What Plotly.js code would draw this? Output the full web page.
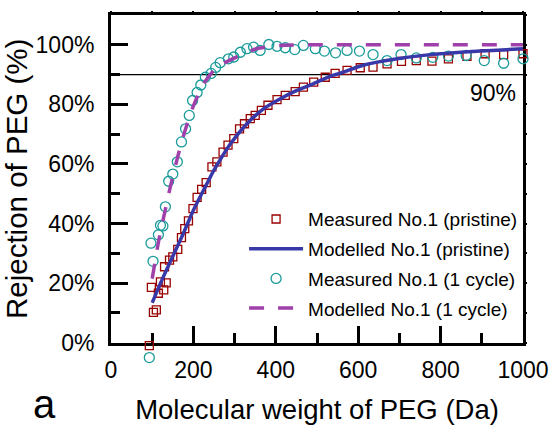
<!DOCTYPE html>
<html>
<head>
<meta charset="utf-8">
<script src="https://cdn.plot.ly/plotly-3.0.1.min.js"></script>
<style>html,body{margin:0;padding:0;background:#fff;}#chart{width:550px;height:425px;}</style>
</head>
<body>
<div id="chart"></div>
<script>
// Measured No.1 (pristine) - squares
const mwPristine = [93, 98, 103, 110, 115, 120, 128, 130, 134, 142, 150, 162, 171, 179, 188, 199, 209, 220, 231, 245, 257, 272, 284, 298, 312, 324, 338, 350, 365, 381, 403, 423, 447, 467, 492, 520, 544, 573, 605, 636, 670, 705, 741, 779, 819, 864, 908, 953, 1000];
const rejPristine = [-1.0, 18.6, 10.2, 11.0, 16.6, 20.4, 17.7, 25.5, 20.1, 27.7, 28.8, 31.3, 35.3, 38.3, 40.9, 45.0, 48.8, 51.5, 53.7, 59.0, 60.7, 64.0, 66.3, 68.5, 71.8, 73.5, 75.2, 76.3, 78.0, 79.7, 81.6, 83.0, 84.3, 85.8, 87.5, 89.1, 90.4, 91.4, 92.3, 92.5, 93.6, 94.4, 94.7, 94.5, 95.3, 96.1, 97.0, 96.7, 97.0];

// Measured No.1 (1 cycle) - circles
const mwCycle = [93, 97, 102, 115, 120, 126, 132, 140, 150, 161, 171, 181, 190, 198, 209, 218, 229, 243, 254, 265, 285, 298, 314, 330, 346, 362, 383, 403, 423, 446, 467, 496, 518, 545, 573, 603, 636, 670, 704, 741, 781, 819, 862, 906, 953, 1000];
const rejCycle = [-5.0, 33.4, 27.3, 36.2, 39.4, 39.2, 45.6, 54.2, 56.6, 60.7, 67.4, 71.8, 76.3, 81.3, 84.0, 86.5, 89.1, 90.4, 92.4, 94.0, 95.3, 95.9, 97.5, 98.7, 99.2, 98.1, 100.1, 99.5, 99.0, 98.4, 99.8, 98.7, 97.9, 97.3, 98.1, 97.9, 96.7, 94.7, 96.7, 95.6, 95.8, 96.2, 96.4, 94.7, 93.8, 95.3];

// Modelled No.1 (pristine) - solid line
const mwModelPristine = [100, 125, 150, 175, 200, 237, 250, 290, 330, 370, 411, 450, 492, 533, 557, 614, 695, 776, 857, 938, 1000];
const rejModelPristine = [13.4, 21.5, 29.0, 36.5, 44.5, 54.5, 57.9, 66.8, 73.5, 78.5, 81.9, 84.6, 87.0, 89.5, 90.5, 93.2, 95.3, 96.7, 97.6, 98.2, 98.7];

// Modelled No.1 (1 cycle) - dashed line
const mwModelCycle = [100, 116, 130, 144, 163, 180, 200, 225, 257, 306, 354, 411, 508, 1000];
const rejModelCycle = [21.5, 34.4, 43.5, 52.3, 63.0, 71.3, 79.5, 87.0, 92.5, 96.0, 98.7, 99.8, 100.0, 100.0];

const seriesNames = ['Measured No.1 (pristine)', 'Modelled No.1 (pristine)', 'Measured No.1 (1 cycle)', 'Modelled No.1 (1 cycle)'];
const xTitle = 'Molecular weight of PEG (Da)';
const yTitle = 'Rejection of PEG (%)';
const thresholdValue = 90;
const thresholdLabel = '90%';
const panelLabel = 'a';

const FONT = 'Liberation Sans, Arial, Helvetica, sans-serif';

// geometry: the visible frame is the main (x, y) subplot; data traces live on a hidden
// twin subplot (x3, y3) that extends a little below the frame so points under 0% still show.
const H = 425, MT = 15, MB = 60;
const paperH = H - MT - MB;          // 350
const yMax = 110;
const frameBottomPx = 342.7;          // pixel of 0% in the visible frame
const extraPx = (H - MB) - frameBottomPx;
const yDomainStart = extraPx / paperH;
const frameH = paperH - extraPx;
const yMinData = -extraPx * yMax / frameH;

const traces = [
  {x: mwPristine, y: rejPristine, name: seriesNames[0], type: 'scatter', mode: 'markers', xaxis: 'x3', yaxis: 'y3',
   marker: {symbol: 'square-open', size: 8, color: '#990000', line: {width: 1.3}},
   cliponaxis: false, legendrank: 1, legendgroup: 'g1'},
  {x: mwCycle, y: rejCycle, name: seriesNames[2], type: 'scatter', mode: 'markers', xaxis: 'x3', yaxis: 'y3',
   marker: {symbol: 'circle-open', size: 10, color: '#1a9a9a', line: {width: 1.3}},
   cliponaxis: false, legendrank: 3, legendgroup: 'g3'},
  {x: mwModelPristine, y: rejModelPristine, name: seriesNames[1], type: 'scatter', mode: 'lines', xaxis: 'x3', yaxis: 'y3',
   line: {color: '#3838a8', width: 3.5, shape: 'spline', smoothing: 0.6},
   legendrank: 2, legendgroup: 'g2'},
  {x: mwModelCycle, y: rejModelCycle, name: seriesNames[3], type: 'scatter', mode: 'lines', xaxis: 'x3', yaxis: 'y3',
   line: {color: '#a040aa', width: 3.5, dash: '15px,14px', shape: 'spline', smoothing: 0.6},
   legendrank: 4, legendgroup: 'g4'},
  {x: [], y: [], showlegend: false, hoverinfo: 'skip', type: 'scatter'},
  {x: [], y: [], xaxis: 'x2', yaxis: 'y2', showlegend: false, hoverinfo: 'skip', type: 'scatter'}
];

const tickFont = {family: FONT, size: 23, color: '#000'};

const layout = {
  width: 550, height: H,
  margin: {l: 111, r: 27, t: MT, b: MB},
  paper_bgcolor: '#fff', plot_bgcolor: 'rgba(0,0,0,0)',
  font: {family: FONT, color: '#000'},
  showlegend: true,
  legend: {x: 0.323, y: 0.471, xanchor: 'left', yanchor: 'top', bgcolor: 'rgba(0,0,0,0)',
           font: {family: FONT, size: 19, color: '#000'}, tracegroupgap: 2, itemwidth: 54},
  xaxis: {range: [0, 1000], anchor: 'y', tick0: 0, dtick: 200, ticks: 'inside', ticklen: 17, tickwidth: 3, tickcolor: '#000',
          showline: true, linewidth: 3, linecolor: '#000', mirror: true, showgrid: false, zeroline: false,
          tickfont: tickFont, ticklabelstandoff: 5,
          minor: {dtick: 100, ticks: 'inside', ticklen: 10, tickwidth: 3, tickcolor: '#000', showgrid: false},
          title: {text: xTitle, font: {family: FONT, size: 27.5, color: '#000'}, standoff: 18}},
  yaxis: {range: [0, yMax], domain: [yDomainStart, 1], anchor: 'x', tick0: 0, dtick: 20, ticksuffix: '%', ticks: 'inside', ticklen: 17, tickwidth: 3, tickcolor: '#000',
          showline: true, linewidth: 3, linecolor: '#000', mirror: true, showgrid: false, zeroline: false,
          tickfont: tickFont, ticklabelstandoff: 9,
          minor: {dtick: 10, ticks: 'inside', ticklen: 9, tickwidth: 3, tickcolor: '#000', showgrid: false},
          title: {text: yTitle, font: {family: FONT, size: 29.5, color: '#000'}, standoff: 3}},
  xaxis2: {overlaying: 'x', side: 'top', anchor: 'y2', range: [0, 1000], dtick: 100, ticks: 'outside', ticklen: 3, tickwidth: 2,
           tickcolor: '#000', showticklabels: false, showgrid: false, zeroline: false, showline: false},
  yaxis2: {overlaying: 'y', side: 'right', anchor: 'x2', range: [0, yMax], dtick: 10, ticks: 'outside', ticklen: 3, tickwidth: 2,
           tickcolor: '#000', showticklabels: false, showgrid: false, zeroline: false, showline: false},
  xaxis3: {domain: [0, 1], anchor: 'y3', range: [0, 1000], visible: false, showgrid: false, zeroline: false},
  yaxis3: {domain: [0, 1], anchor: 'x3', range: [yMinData, yMax], visible: false, showgrid: false, zeroline: false},
  shapes: [{type: 'line', xref: 'paper', x0: 0, x1: 1, yref: 'y', y0: thresholdValue, y1: thresholdValue,
            line: {color: '#000', width: 1.2}, layer: 'below'}],
  annotations: [
    {text: thresholdLabel, xref: 'x', yref: 'y', x: 988, y: 83.8, xanchor: 'right', yanchor: 'middle', showarrow: false,
     font: {family: FONT, size: 23, color: '#000'}},
    {text: panelLabel, xref: 'paper', yref: 'paper', x: -0.162, y: -0.112, xanchor: 'center', yanchor: 'middle', showarrow: false,
     font: {family: FONT, size: 40, color: '#000'}}
  ]
};

Plotly.newPlot('chart', traces, layout, {displayModeBar: false, staticPlot: true});
</script>
</body>
</html>
